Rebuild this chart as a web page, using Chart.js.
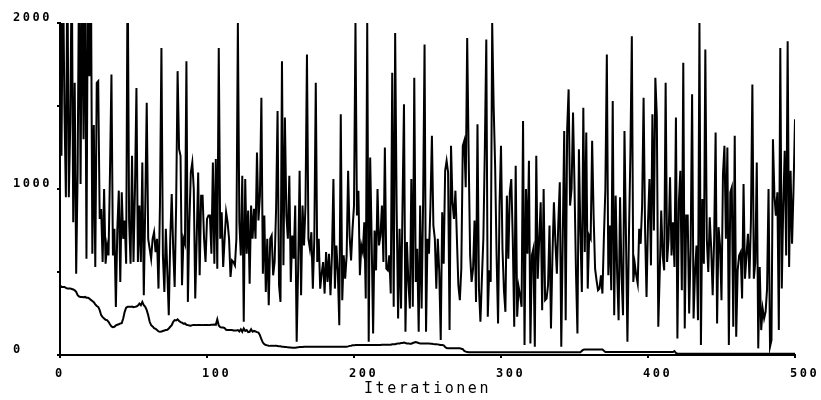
<!DOCTYPE html>
<html>
<head>
<meta charset="utf-8">
<script src="https://cdn.jsdelivr.net/npm/chart.js@4.4.1/dist/chart.umd.min.js"></script>
<style>
  html, body { margin: 0; padding: 0; background: #fff; }
  #wrap { width: 821px; height: 400px; }
</style>
</head>
<body>
<div id="wrap"><canvas id="c" width="821" height="400"></canvas></div>
<script>
// ---- data ----
const xTicks = [0, 100, 200, 300, 400, 500];
const yTicks = [0, 500, 1000, 1500, 2000];
const yLabels = ["0", "", "1000", "", "2000"];
const xTitle = "Iterationen";

// current value at each iteration (values above 2000 run off the top of the plot)
const currentValues = [
  2400, 1200, 2400, 1500, 950, 2400, 950, 1400, 2400, 800,
  1640, 490, 1100, 2400, 1030, 2400, 1300, 2400, 580, 2400,
  1680, 2400, 610, 1385, 530, 1640, 1650, 820, 880, 560,
  1000, 550, 660, 600, 1100, 1690, 600, 760, 290, 760,
  990, 440, 980, 700, 810, 550, 2400, 810, 550, 1200,
  560, 1000, 1608, 560, 900, 560, 1160, 360, 900, 1520,
  700, 640, 580, 700, 740, 620, 700, 400, 900, 1850,
  600, 380, 760, 500, 240, 700, 970, 640, 410, 900,
  1710, 1240, 1200, 420, 700, 670, 1770, 320, 800, 1100,
  1160, 1000, 340, 700, 1100, 480, 960, 960, 700, 560,
  820, 840, 840, 610, 1160, 550, 1180, 520, 1850, 700,
  860, 530, 700, 860, 800, 700, 470, 570, 560, 540,
  700, 2000, 800, 600, 1080, 200, 1060, 610, 870, 430,
  900, 700, 880, 700, 1220, 810, 960, 1550, 490, 840,
  380, 700, 300, 700, 720, 480, 560, 880, 1470, 420,
  320, 1770, 540, 1430, 840, 700, 1080, 440, 720, 580,
  900, 80, 520, 1110, 360, 900, 660, 900, 1810, 700,
  640, 740, 400, 700, 1640, 560, 700, 400, 490, 560,
  370, 620, 440, 610, 360, 600, 1060, 400, 660, 500,
  180, 1450, 330, 600, 460, 600, 1110, 720, 570, 760,
  900, 2000, 840, 990, 480, 660, 620, 800, 340, 2000,
  80, 1190, 700, 130, 750, 510, 1000, 660, 720, 900,
  560, 1250, 520, 510, 600, 370, 1700, 290, 1940, 890,
  220, 760, 280, 900, 1510, 140, 680, 440, 280, 1060,
  290, 1670, 440, 640, 140, 900, 280, 910, 1870, 140,
  700, 610, 900, 1320, 780, 700, 400, 700, 500, 90,
  860, 550, 1110, 1170, 1100, 150, 1260, 920, 820, 990,
  700, 420, 330, 520, 1260, 1290, 1010, 1910, 1200, 600,
  440, 520, 810, 320, 1390, 400, 200, 460, 700, 1240,
  1900, 230, 510, 440, 2000, 1500, 1140, 600, 190, 900,
  1260, 640, 390, 260, 960, 580, 980, 1060, 700, 170,
  1140, 230, 410, 360, 290, 1410, 60, 1000, 610, 1170,
  70, 600, 640, 50, 1200, 460, 700, 920, 270, 1000,
  330, 340, 420, 780, 160, 600, 920, 680, 490, 800,
  1040, 50, 700, 1350, 210, 1360, 1600, 900, 1000, 1460,
  1020, 500, 130, 1240, 740, 380, 1490, 620, 1340, 400,
  720, 700, 1290, 840, 520, 450, 390, 400, 480, 370,
  710, 1000, 1810, 480, 780, 390, 1530, 240, 960, 500,
  210, 950, 480, 240, 1350, 720, 80, 700, 1200, 1920,
  440, 550, 480, 430, 760, 670, 900, 1550, 760, 350,
  800, 1060, 540, 1450, 750, 1670, 1440, 170, 500, 870,
  600, 510, 1640, 560, 700, 1070, 600, 800, 530, 1430,
  100, 920, 1110, 390, 1760, 160, 840, 840, 250, 640,
  1570, 220, 500, 660, 210, 2000, 60, 940, 550, 1840,
  700, 500, 830, 640, 360, 700, 1340, 190, 770, 660,
  330, 1090, 1260, 700, 1250, 60, 980, 1010, 170, 1320,
  110, 510, 600, 620, 340, 1030, 460, 600, 730, 460,
  800, 1630, 460, 560, 1160, 40, 530, 150, 280, 220,
  260, 400, 1000, 50, 90, 1300, 960, 840, 980, 150,
  1850, 400, 900, 1230, 600, 1890, 530, 1110, 670, 1000,
  1420
];

// lower (slowly decreasing) curve
const bestValues = [
  420, 410, 410, 410, 405, 400, 400, 400, 398, 395,
  390, 380, 360, 352, 350, 350, 348, 350, 345, 345,
  340, 332, 325, 318, 305, 295, 290, 270, 240, 228,
  220, 212, 210, 200, 185, 172, 168, 170, 178, 182,
  185, 190, 192, 220, 260, 285, 290, 290, 290, 292,
  288, 290, 292, 298, 310, 300, 320, 300, 290, 270,
  240, 200, 180, 172, 162, 158, 150, 142, 140, 142,
  145, 148, 150, 152, 160, 170, 180, 200, 210, 208,
  215, 205, 198, 195, 188, 190, 182, 180, 178, 176,
  180, 181, 181, 180, 180, 180, 180, 181, 180, 180,
  180, 180, 181, 182, 182, 183, 182, 215, 178, 168,
  165, 165, 162, 152, 150, 150, 150, 150, 148, 148,
  148, 150, 142, 155, 140, 160, 145, 150, 138, 140,
  155, 140, 145, 142, 138, 135, 120, 95, 75, 65,
  60, 58, 56, 55, 55, 56, 55, 55, 54, 52,
  52, 50, 50, 48, 48, 46, 45, 45, 44, 44,
  44, 45, 46, 48, 48, 48, 50, 50, 50, 50,
  50, 50, 50, 50, 50, 50, 50, 50, 50, 50,
  50, 50, 50, 50, 50, 50, 50, 50, 50, 50,
  50, 50, 50, 50, 50, 50, 52, 55, 56, 58,
  58, 60, 60, 60, 60, 60, 60, 60, 60, 60,
  60, 60, 60, 60, 60, 60, 60, 60, 60, 62,
  62, 62, 62, 62, 62, 62, 65, 65, 65, 68,
  70, 70, 72, 72, 75, 72, 70, 70, 68, 68,
  72, 75, 78, 75, 72, 70, 70, 70, 70, 70,
  70, 70, 68, 68, 66, 65, 65, 64, 62, 60,
  60, 58, 48, 42, 40, 40, 40, 40, 40, 40,
  40, 40, 40, 38, 35, 25, 20, 18, 16, 16,
  16, 16, 16, 16, 16, 16, 16, 16, 16, 16,
  16, 16, 16, 16, 16, 16, 16, 16, 16, 16,
  16, 16, 16, 16, 16, 16, 16, 16, 16, 16,
  16, 16, 16, 16, 16, 16, 16, 16, 16, 16,
  16, 16, 16, 16, 16, 16, 16, 16, 16, 16,
  16, 16, 16, 16, 16, 16, 16, 16, 16, 16,
  16, 16, 16, 16, 16, 16, 16, 16, 16, 16,
  16, 16, 16, 16, 16, 25, 32, 33, 33, 33,
  33, 33, 33, 33, 33, 33, 33, 33, 33, 33,
  25, 18, 18, 18, 18, 18, 18, 18, 18, 18,
  18, 18, 18, 18, 18, 18, 18, 18, 18, 18,
  18, 18, 18, 18, 18, 18, 18, 18, 18, 18,
  18, 18, 18, 18, 18, 18, 18, 18, 18, 18,
  18, 18, 18, 18, 18, 18, 18, 18, 24, 12,
  8, 8, 8, 8, 8, 8, 8, 8, 8, 8,
  8, 8, 8, 8, 8, 8, 8, 8, 8, 8,
  8, 8, 8, 8, 8, 8, 8, 8, 8, 8,
  8, 8, 8, 8, 8, 8, 8, 8, 8, 8,
  8, 8, 8, 8, 8, 8, 8, 8, 8, 8,
  8, 8, 8, 8, 8, 8, 8, 8, 8, 8,
  8, 8, 8, 8, 8, 8, 8, 8, 8, 8,
  8, 8, 8, 8, 8, 8, 8, 8, 8, 8,
  8
];

// iteration index of each sample
const iterations = currentValues.map((_, i) => i);

const toPoints = (vals) => vals.map((v, i) => ({ x: iterations[i], y: v }));

const spacingPlugin = {
  id: 'spacing',
  beforeLayout(chart) { chart.ctx.letterSpacing = '2.5px'; },
  beforeDraw(chart) { chart.ctx.letterSpacing = '2.5px'; }
};

new Chart(document.getElementById('c'), {
  type: 'line',
  data: {
    datasets: [
      { data: toPoints(currentValues), borderColor: '#000', borderWidth: 2, pointRadius: 0, tension: 0, fill: false },
      { data: toPoints(bestValues), borderColor: '#000', borderWidth: 2, pointRadius: 0, tension: 0, fill: false }
    ]
  },
  options: {
    responsive: false,
    animation: false,
    parsing: true,
    layout: { padding: { left: 13, top: 23, right: 26, bottom: 0 } },
    plugins: { legend: { display: false }, tooltip: { enabled: false } },
    scales: {
      x: {
        type: 'linear',
        min: xTicks[0], max: xTicks[xTicks.length - 1],
        afterBuildTicks(scale) { scale.ticks = xTicks.map(v => ({ value: v })); },
        afterFit(scale) { scale.height = 45; scale.paddingLeft = 0; scale.paddingRight = 0; },
        grid: { display: true, drawOnChartArea: false, drawTicks: true, tickLength: 3, color: '#000', lineWidth: 2 },
        border: { display: true, color: '#000', width: 2 },
        ticks: {
          color: '#000', align: 'start', labelOffset: -5, padding: 9, maxRotation: 0, autoSkip: false,
          font: { family: 'DejaVu Sans Mono', size: 12, weight: 'bold' },
          callback: (v) => String(v)
        },
        title: {
          display: true, text: xTitle, color: '#000',
          font: { family: 'DejaVu Sans Mono', size: 15, weight: 'normal', lineHeight: 1.2 },
          padding: { top: 0, bottom: 2 }
        }
      },
      y: {
        type: 'linear',
        min: yTicks[0], max: yTicks[yTicks.length - 1],
        afterBuildTicks(scale) { scale.ticks = yTicks.map(v => ({ value: v })); },
        afterFit(scale) { scale.width = 47; scale.paddingTop = 0; scale.paddingBottom = 0; },
        grid: { display: true, drawOnChartArea: false, drawTicks: true, tickLength: 3, color: '#000', lineWidth: 2 },
        border: { display: true, color: '#000', width: 2 },
        ticks: {
          color: '#000', crossAlign: 'far', labelOffset: -5, padding: 6, autoSkip: false,
          font: { family: 'DejaVu Sans Mono', size: 12, weight: 'bold' },
          callback: (v) => yLabels[yTicks.indexOf(v)]
        }
      }
    }
  },
  plugins: [spacingPlugin]
});
</script>
</body>
</html>
